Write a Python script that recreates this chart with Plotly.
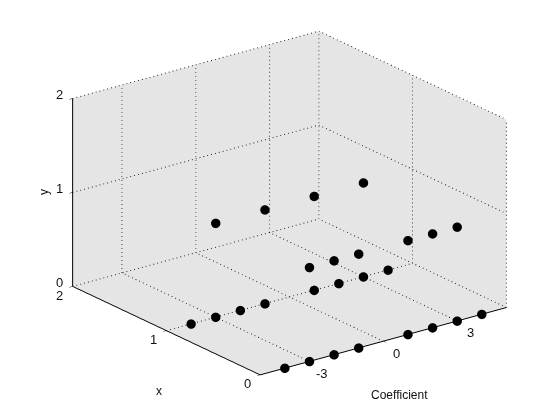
import plotly.graph_objects as go

coef_ticks = [-3, 0, 3]
coef_range = [-5, 5]
x_ticks = [0, 1, 2]
y_ticks = [0, 1, 2]
coef_a = [-4, -3, -2, -1, 1, 2, 3, 4]
coef_b = [-3, -2, -1, 1, 2, 3]
coef_c = [-3, -1, 1, 3]
coef = coef_a + coef_a + coef_b + coef_c
xval = [0]*8 + [1]*8 + [0]*6 + [1]*4
yval = [0]*8 + [0]*8 + [1]*6 + [1]*4

gx, gy, gz = [], [], []
def seg(a, b, full_px):
    # dotted grid line: short solid pieces, about one every 4 px on screen
    n = max(1, round(full_px / 4))
    for i in range(n):
        t0, t1 = i / n, (i + 0.2) / n
        gx.extend([a[0] + (b[0]-a[0])*t0, a[0] + (b[0]-a[0])*t1, None])
        gy.extend([a[1] + (b[1]-a[1])*t0, a[1] + (b[1]-a[1])*t1, None])
        gz.extend([a[2] + (b[2]-a[2])*t0, a[2] + (b[2]-a[2])*t1, None])
lo, hi = coef_range
LEN_C, LEN_X, LEN_Z = 256, 208, 189
for c in coef_ticks:
    seg((c, 2, 0), (c, 2, 2), LEN_Z)
    seg((c, 0, 0), (c, 2, 0), LEN_X)
for v in [1, 0]:
    seg((hi, v, 0), (hi, v, 2), LEN_Z)
seg((hi, 2, 0), (hi, 2, 2), LEN_Z)
seg((hi, 0, 0), (hi, 2, 0), LEN_X)
seg((lo, 2, 0), (hi, 2, 0), LEN_C)
seg((lo, 1, 0), (hi, 1, 0), LEN_C)
for z in [1, 2]:
    seg((lo, 2, z), (hi, 2, z), LEN_C)
    seg((hi, 2, z), (hi, 0, z), LEN_X)

fig = go.Figure()
fig.add_trace(go.Scatter3d(x=gx, y=gy, z=gz, mode="lines", line=dict(color="black", width=2), hoverinfo="skip", connectgaps=False, scene="scene"))
fig.add_trace(go.Scatter3d(x=coef, y=xval, z=yval, mode="markers", marker=dict(color="black", size=5.5, line=dict(width=0)), hoverinfo="skip", scene="scene2"))

font = dict(family="Liberation Sans, Arial, sans-serif", size=13, color="#111111")
small = dict(family="Liberation Sans, Arial, sans-serif", size=12, color="#111111")
ann = []
for c in coef_ticks:
    ann.append(dict(x=c, y=0, z=0, text=str(c), showarrow=False, font=font, xshift=13, yshift=-12))
for v in x_ticks:
    ann.append(dict(x=lo, y=v, z=0, text=str(v), showarrow=False, font=font, xshift=-13, yshift=-9))
for v in y_ticks:
    ann.append(dict(x=lo, y=2, z=v, text=str(v), showarrow=False, font=font, xshift=-13, yshift=4))
ann.append(dict(x=0, y=0, z=0, text="Coefficient", showarrow=False, font=small, xshift=16, yshift=-54))
ann.append(dict(x=lo, y=1, z=0, text="x", showarrow=False, font=small, xshift=-7, yshift=-60))
ann.append(dict(x=lo, y=2, z=1, text="y", showarrow=False, font=small, xshift=-28, yshift=0, textangle=-90))

def axis(vals, rng):
    return dict(range=rng, tickmode="array", tickvals=vals, ticktext=[""]*len(vals), showticklabels=False,
                ticks="outside", ticklen=4, tickcolor="black", tickwidth=1, showgrid=False, zeroline=False,
                showline=True, linecolor="black", linewidth=2, showbackground=True,
                backgroundcolor="#E5E5E5", showspikes=False, title=dict(text=""))

def hidden(rng):
    return dict(range=rng, visible=False, showspikes=False)

camera = dict(projection=dict(type="orthographic"), center=dict(x=0, y=0, z=0), up=dict(x=0, y=0, z=1),
              eye=dict(x=-0.565*1.3, y=-0.742*1.3, z=0.359*1.3))
domain = dict(x=[3/560, 1], y=[30/420, 1])
aspect = dict(x=1.587, y=1.587, z=1.0327)

fig.update_layout(
    width=560, height=420, margin=dict(l=0, r=0, t=0, b=0), showlegend=False,
    paper_bgcolor="white", hovermode=False,
    scene=dict(domain=domain, xaxis=axis(coef_ticks, coef_range), yaxis=axis(x_ticks, [0, 2]), zaxis=axis(y_ticks, [0, 2]),
               aspectmode="manual", aspectratio=aspect, camera=camera, annotations=ann),
    scene2=dict(domain=domain, xaxis=hidden(coef_range), yaxis=hidden([0, 2]), zaxis=hidden([0, 2]),
                aspectmode="manual", aspectratio=aspect, camera=camera, bgcolor="rgba(0,0,0,0)"),
)
fig.write_html("out.html")
